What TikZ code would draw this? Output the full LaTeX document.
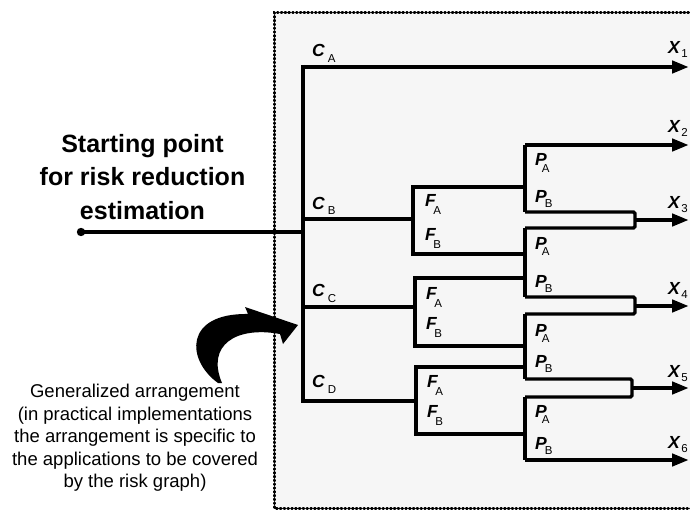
\documentclass[tikz,border=0pt]{standalone}
\usepackage{fontspec}
\setmainfont{Liberation Sans}
\usetikzlibrary{arrows.meta}
\newcommand\lab[4]{{\bfseries\itshape #1}\kern#2\raisebox{-#4}{\fontsize{11.5}{11.5}\selectfont #3}}
\begin{document}
\begin{tikzpicture}[x=1pt,y=-1pt,
  trunk/.style={line width=4.3pt, line cap=butt},
  branch/.style={line width=3.3pt, line join=miter},
  outarrow/.style={line width=4.3pt,-{Triangle[length=17pt,width=12pt]}},
  lbl/.style={anchor=base west, inner sep=0pt, font=\fontsize{17.5}{17.5}\selectfont},
  border/.style={line width=3pt, dash pattern=on 0.9pt off 2.9pt, line cap=round}
]
\useasboundingbox (0,0) rectangle (690,513);
\fill[white] (0,0) rectangle (690,513);
\fill[black!3.5] (274,13) rectangle (700,508);
\draw[border] (700,13) -- (274,13) -- (274,508) -- (700,508);

% coordinates
\coordinate (start) at (81,232);
\coordinate (tj) at (303,232);
\coordinate (ca) at (303,67);
\coordinate (cb) at (303,219);
\coordinate (cc) at (303,307);
\coordinate (cd) at (303,401);
\coordinate (x1) at (689,67);
\coordinate (x2) at (689,145);
\coordinate (x3) at (689,220);
\coordinate (x4) at (689,306);
\coordinate (x5) at (689,388);
\coordinate (x6) at (689,460);
% F splits
\coordinate (f1a) at (413,187); \coordinate (f1b) at (413,254);
\coordinate (f2a) at (415,278); \coordinate (f2b) at (415,346);
\coordinate (f3a) at (416,367); \coordinate (f3b) at (416,434);
% P splits
\coordinate (p1a) at (525,145); \coordinate (p1b) at (525,212);
\coordinate (p2a) at (525,228); \coordinate (p2b) at (525,297);
\coordinate (p3a) at (525,314); \coordinate (p3b) at (525,379);
\coordinate (p4a) at (525,397); \coordinate (p4b) at (525,460);
% merge points
\coordinate (m3) at (635,220);
\coordinate (m4) at (635,306);
\coordinate (m5) at (632,388);

% start
\fill (start) circle (4.2pt);
\draw[trunk] (start) -- (tj);
\draw[trunk] (ca |- 0,65) -- (cd |- 0,403);
\draw[outarrow, line width=4.8pt] (ca) -- (x1);

% C branches
\draw[branch] (cb) -- (f1a |- cb);
\draw[branch] (cc) -- (f2a |- cc);
\draw[branch] (cd) -- (f3a |- cd);

% F splits
\draw[branch] (p1a |- f1a) -- (f1a) -- (f1b) -- (p2a |- f1b);
\draw[branch] (p2a |- f2a) -- (f2a) -- (f2b) -- (p3a |- f2b);
\draw[branch] (p3a |- f3a) -- (f3a) -- (f3b) -- (p4a |- f3b);

% P splits
\draw[branch] (p1a) -- (p1b);
\draw[branch] (p2a) -- (p2b);
\draw[branch] (p3a) -- (p3b);
\draw[branch] (p4a) -- (p4b);

% merges
\draw[branch, rounded corners=1.5pt] (p1b) -| (m3) |- (p2a);
\draw[branch, rounded corners=1.5pt] (p2b) -| (m4) |- (p3a);
\draw[branch, rounded corners=1.5pt] (p3b) -| (m5) |- (p4a);

% outputs
\draw[outarrow] (p1a) -- (x2);
\draw[outarrow] (m3) -- (x3);
\draw[outarrow] (m4) -- (x4);
\draw[outarrow] (m5) -- (x5);
\draw[outarrow] (p4b) -- (x6);

% labels
\node[lbl] (lca) at (312,57) {\lab{C}{3pt}{A}{6pt}};
\node[lbl] (lcb) at (312,209) {\lab{C}{3pt}{B}{5pt}};
\node[lbl] (lcc) at (312,296) {\lab{C}{3pt}{C}{6pt}};
\node[lbl] (lcd) at (312,387) {\lab{C}{3pt}{D}{6pt}};

\node[lbl] (lf1a) at (425,206) {\lab{F}{-2.5pt}{A}{8pt}};
\node[lbl] (lf1b) at (425,240) {\lab{F}{-2.5pt}{B}{8pt}};
\node[lbl] (lf2a) at (426,299) {\lab{F}{-2.5pt}{A}{8pt}};
\node[lbl] (lf2b) at (426,329) {\lab{F}{-2.5pt}{B}{8pt}};
\node[lbl] (lf3a) at (427,387) {\lab{F}{-2.5pt}{A}{8pt}};
\node[lbl] (lf3b) at (427,417) {\lab{F}{-2.5pt}{B}{8pt}};

\node[lbl] (lp1a) at (535,166) {\lab{P}{-5pt}{A}{6pt}};
\node[lbl] (lp1b) at (535,202) {\lab{P}{-2pt}{B}{5pt}};
\node[lbl] (lp2a) at (535,249) {\lab{P}{-5pt}{A}{6pt}};
\node[lbl] (lp2b) at (535,287) {\lab{P}{-2pt}{B}{5pt}};
\node[lbl] (lp3a) at (535,336) {\lab{P}{-5pt}{A}{6pt}};
\node[lbl] (lp3b) at (535,367) {\lab{P}{-2pt}{B}{5pt}};
\node[lbl] (lp4a) at (535,417) {\lab{P}{-5pt}{A}{6pt}};
\node[lbl] (lp4b) at (535,449) {\lab{P}{-2pt}{B}{5pt}};

\node[lbl] (lx1) at (668,54) {\lab{X}{1.5pt}{1}{4pt}};
\node[lbl] (lx2) at (668,133) {\lab{X}{1.5pt}{2}{4pt}};
\node[lbl] (lx3) at (668,208) {\lab{X}{1.5pt}{3}{4pt}};
\node[lbl] (lx4) at (668,294) {\lab{X}{1.5pt}{4}{4pt}};
\node[lbl] (lx5) at (668,377) {\lab{X}{1.5pt}{5}{4pt}};
\node[lbl] (lx6) at (668,448) {\lab{X}{1.5pt}{6}{4pt}};

% texts
\node[align=center, inner sep=0pt, font=\fontsize{25}{33.5}\selectfont\bfseries] (stxt) at (142.5,177)
  {Starting point\\for risk reduction\\estimation};
\node[align=center, inner sep=0pt, font=\fontsize{18.5}{22.5}\selectfont] (gtxt) at (135,438)
  {Generalized arrangement\\(in practical implementations\\the arrangement is specific to\\the applications to be covered\\by the risk graph)};

% curved arrow
\fill (218,383) .. controls (186,360) and (184,313) .. (248,314) -- (245,307) -- (298,325)
  -- (283,344) -- (280,334) .. controls (236,326) and (206,345) .. (222,383) -- cycle;
\end{tikzpicture}
\end{document}
